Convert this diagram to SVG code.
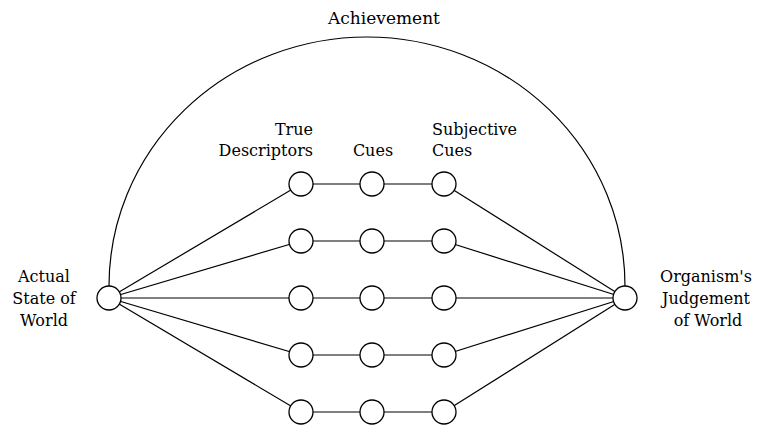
<svg xmlns="http://www.w3.org/2000/svg" width="760" height="437" viewBox="0 0 760 437">
  <style>
    .ln { stroke: #000; stroke-width: 1.2; fill: none; }
    .nd { stroke: #000; stroke-width: 1.3; fill: #fff; }
    .lb { font-family: "DejaVu Serif", "Liberation Serif", serif; font-size: 16px; fill: #000; }
  </style>
  <rect width="760" height="437" fill="#fff"/>

  <!-- connectors -->
  <g id="connectors">
    <!-- achievement arc over the top -->
    <path class="ln" d="M 109,286 A 258 249 0 0 1 625,286"/>
    <!-- fan out from the actual state -->
    <line class="ln" x1="109" y1="298" x2="301" y2="184"/>
    <line class="ln" x1="109" y1="298" x2="301" y2="241"/>
    <line class="ln" x1="109" y1="298" x2="301" y2="298"/>
    <line class="ln" x1="109" y1="298" x2="301" y2="355"/>
    <line class="ln" x1="109" y1="298" x2="301" y2="412"/>
    <!-- chains through descriptors, cues, subjective cues -->
    <line class="ln" x1="301" y1="184" x2="444" y2="184"/>
    <line class="ln" x1="301" y1="241" x2="444" y2="241"/>
    <line class="ln" x1="301" y1="298" x2="444" y2="298"/>
    <line class="ln" x1="301" y1="355" x2="444" y2="355"/>
    <line class="ln" x1="301" y1="412" x2="444" y2="412"/>
    <!-- fan in to the judgement -->
    <line class="ln" x1="444" y1="184" x2="625" y2="298"/>
    <line class="ln" x1="444" y1="241" x2="625" y2="298"/>
    <line class="ln" x1="444" y1="298" x2="625" y2="298"/>
    <line class="ln" x1="444" y1="355" x2="625" y2="298"/>
    <line class="ln" x1="444" y1="412" x2="625" y2="298"/>
  </g>

  <!-- end nodes -->
  <g id="actual-state">
    <circle class="nd" cx="109" cy="298" r="12"/>
    <text class="lb" x="44" y="282" text-anchor="middle">Actual</text>
    <text class="lb" x="44" y="304" text-anchor="middle">State of</text>
    <text class="lb" x="44" y="326" text-anchor="middle">World</text>
  </g>
  <g id="judgement">
    <circle class="nd" cx="625" cy="298" r="12"/>
    <text class="lb" x="706" y="282" text-anchor="middle">Organism's</text>
    <text class="lb" x="706" y="304" text-anchor="middle">Judgement</text>
    <text class="lb" x="708" y="326" text-anchor="middle">of World</text>
  </g>

  <!-- column headings -->
  <g id="achievement-label">
    <text class="lb" x="384" y="24" text-anchor="middle" style="font-size:17px">Achievement</text>
  </g>
  <g id="heading-descriptors">
    <text class="lb" x="313" y="135" text-anchor="end">True</text>
    <text class="lb" x="313" y="156" text-anchor="end">Descriptors</text>
  </g>
  <g id="heading-cues">
    <text class="lb" x="373" y="156" text-anchor="middle">Cues</text>
  </g>
  <g id="heading-subjective">
    <text class="lb" x="432" y="135">Subjective</text>
    <text class="lb" x="432" y="156">Cues</text>
  </g>

  <!-- true descriptors column -->
  <g id="d1"><circle class="nd" cx="301" cy="184" r="12"/></g>
  <g id="d2"><circle class="nd" cx="301" cy="241" r="12"/></g>
  <g id="d3"><circle class="nd" cx="301" cy="298" r="12"/></g>
  <g id="d4"><circle class="nd" cx="301" cy="355" r="12"/></g>
  <g id="d5"><circle class="nd" cx="301" cy="412" r="12"/></g>
  <!-- cues column -->
  <g id="c1"><circle class="nd" cx="372" cy="184" r="12"/></g>
  <g id="c2"><circle class="nd" cx="372" cy="241" r="12"/></g>
  <g id="c3"><circle class="nd" cx="372" cy="298" r="12"/></g>
  <g id="c4"><circle class="nd" cx="372" cy="355" r="12"/></g>
  <g id="c5"><circle class="nd" cx="372" cy="412" r="12"/></g>
  <!-- subjective cues column -->
  <g id="s1"><circle class="nd" cx="444" cy="184" r="12"/></g>
  <g id="s2"><circle class="nd" cx="444" cy="241" r="12"/></g>
  <g id="s3"><circle class="nd" cx="444" cy="298" r="12"/></g>
  <g id="s4"><circle class="nd" cx="444" cy="355" r="12"/></g>
  <g id="s5"><circle class="nd" cx="444" cy="412" r="12"/></g>
</svg>
